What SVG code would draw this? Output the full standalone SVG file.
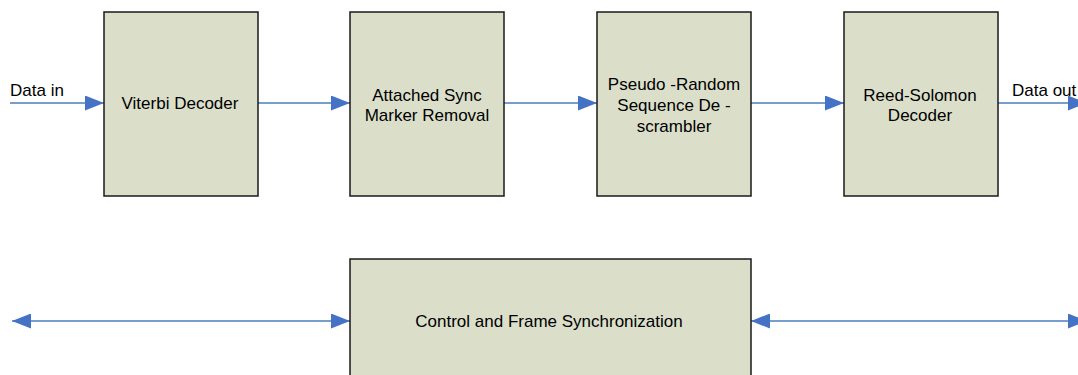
<svg xmlns="http://www.w3.org/2000/svg" width="1078" height="375" viewBox="0 0 1078 375">
<defs>
<style>
.box{fill:#DBDFCA;stroke:#1a1a1a;stroke-width:1.5}
.conn{stroke:#4A7EBB;stroke-width:1.5;fill:none}
text{font-family:"Liberation Sans",Arial,sans-serif;font-size:17px;fill:#000}
.c{text-anchor:middle}
</style>
<marker id="ah" markerWidth="19" markerHeight="15" refX="19" refY="7.5" orient="auto" markerUnits="userSpaceOnUse">
<path d="M0,0 L19,7.5 L0,15 Z" fill="#4472C4"/>
</marker>
<marker id="as" markerWidth="19" markerHeight="15" refX="0" refY="7.5" orient="auto" markerUnits="userSpaceOnUse">
<path d="M19,0 L0,7.5 L19,15 Z" fill="#4472C4"/>
</marker>
</defs>
<rect width="1078" height="375" fill="#fff"/>
<g id="connectors">
<line class="conn" x1="10" y1="103" x2="104" y2="103" marker-end="url(#ah)"/>
<line class="conn" x1="258" y1="103" x2="350" y2="103" marker-end="url(#ah)"/>
<line class="conn" x1="504" y1="103" x2="597" y2="103" marker-end="url(#ah)"/>
<line class="conn" x1="751" y1="103" x2="844" y2="103" marker-end="url(#ah)"/>
<line class="conn" x1="997" y1="103" x2="1087" y2="103" marker-end="url(#ah)"/>
<line class="conn" x1="12" y1="321" x2="350" y2="321" marker-start="url(#as)" marker-end="url(#ah)"/>
<line class="conn" x1="751" y1="321" x2="1087" y2="321" marker-start="url(#as)" marker-end="url(#ah)"/>
<text x="10" y="96">Data in</text>
<text x="1012" y="96">Data out</text>
</g>
<g id="viterbi">
<rect class="box" x="104" y="12" width="154" height="184"/>
<text class="c" x="180" y="109">Viterbi Decoder</text>
</g>
<g id="asm">
<rect class="box" x="350" y="12" width="154" height="184"/>
<text class="c" x="427" y="101">Attached Sync</text>
<text class="c" x="427" y="121">Marker Removal</text>
</g>
<g id="prsd">
<rect class="box" x="597" y="12" width="154" height="184"/>
<text class="c" x="674" y="90">Pseudo -Random</text>
<text class="c" x="674" y="111">Sequence De -</text>
<text class="c" x="674" y="132">scrambler</text>
</g>
<g id="rs">
<rect class="box" x="844" y="12" width="154" height="184"/>
<text class="c" x="920" y="101">Reed-Solomon</text>
<text class="c" x="920" y="121">Decoder</text>
</g>
<g id="control">
<rect class="box" x="350" y="259" width="401" height="130"/>
<text class="c" x="549" y="327">Control and Frame Synchronization</text>
</g>
</svg>
